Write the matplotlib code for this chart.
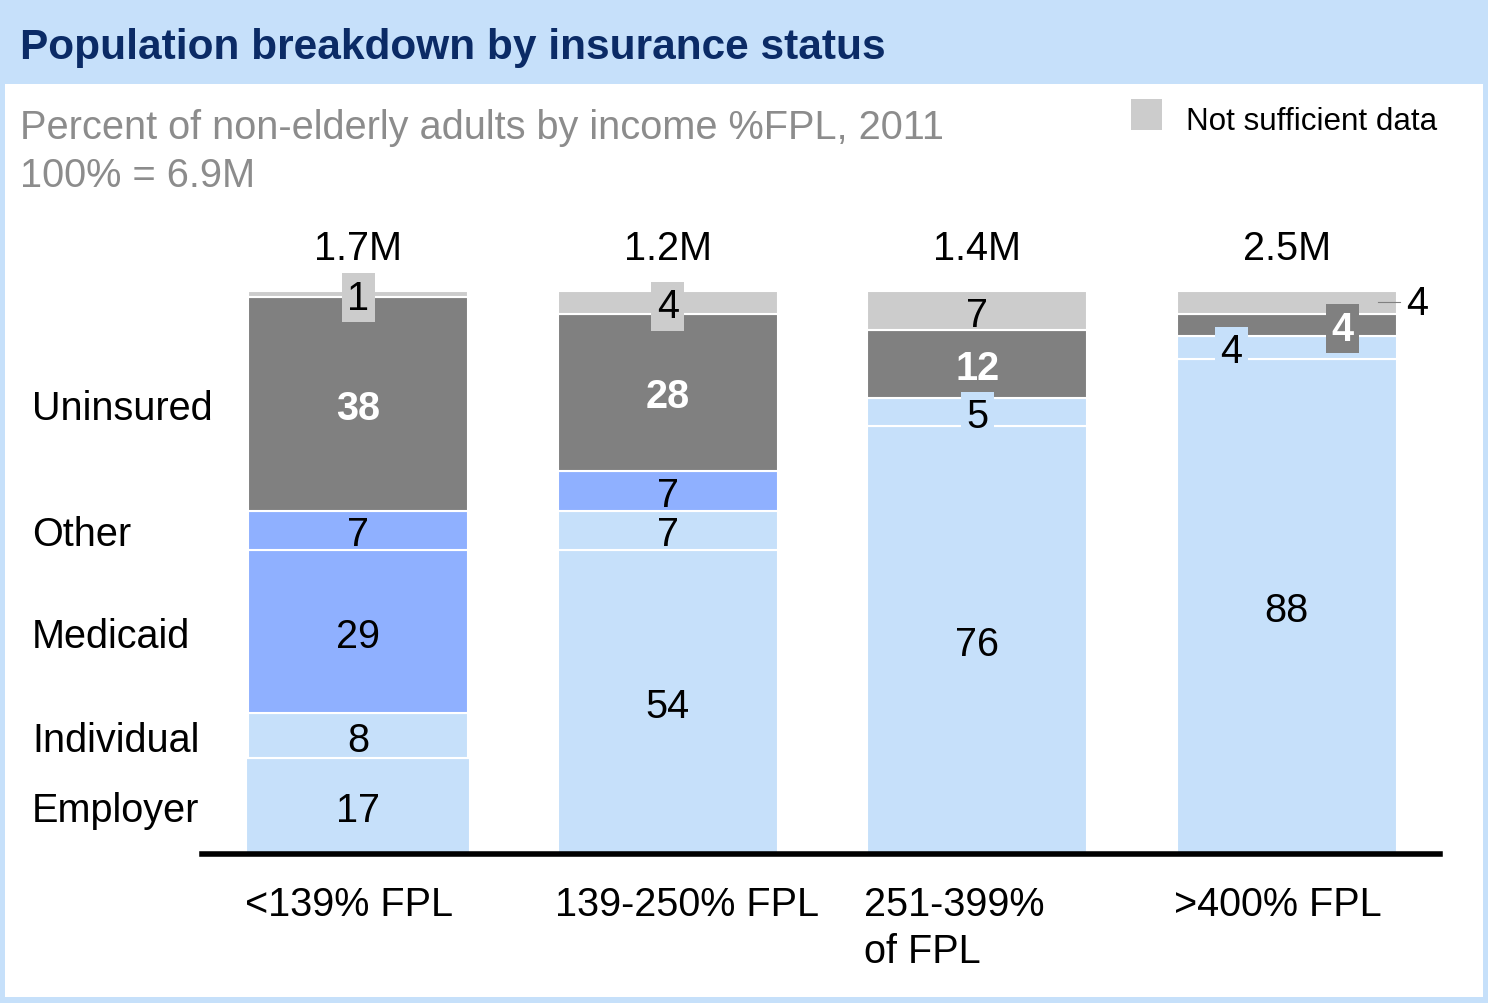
import matplotlib.pyplot as plt
from matplotlib.patches import Rectangle
from matplotlib.transforms import blended_transform_factory

plt.rcParams["font.family"] = ["Liberation Sans", "DejaVu Sans"]

# data (bottom to top in each bar)
categories = ['<139% FPL', '139-250% FPL', '251-399%\nof FPL', '>400% FPL']
totals = ['1.7M', '1.2M', '1.4M', '2.5M']
seg_values = [[17, 8, 29, 7, 38, 1],
              [54, 7, 7, 28, 4],
              [76, 5, 12, 7],
              [88, 4, 4, 4]]
seg_kinds = [['light', 'light', 'medium', 'medium', 'dark', 'gray'],
             ['light', 'light', 'medium', 'dark', 'gray'],
             ['light', 'light', 'dark', 'gray'],
             ['light', 'light', 'dark', 'gray']]
row_labels = ['Employer', 'Individual', 'Medicaid', 'Other', 'Uninsured']

colors = {'light': '#C6E0FA', 'medium': '#8FB0FF', 'dark': '#808080', 'gray': '#CCCCCC'}
# label tweaks: (bar, seg) -> (x offset, boxed, outside)
label_tweaks = {(0, 5): (0, True, False), (1, 4): (0, True, False),
                (2, 1): (0, True, False), (3, 1): (-0.18, True, False),
                (3, 2): (0.18, True, False), (3, 3): (0, False, True)}

fs = 28.5

fig = plt.figure(figsize=(14.88, 10.04), dpi=100)
fig.patch.set_facecolor('#C6E0FA')
fig.patches.append(Rectangle((5 / 1488, 6 / 1004), 1478 / 1488, (998 - 85) / 1004,
                             transform=fig.transFigure, facecolor='white', edgecolor='none', zorder=-5))

fig.text(20 / 1488, 1 - 44 / 1004, 'Population breakdown by insurance status',
         fontsize=30.5, fontweight='bold', color='#0B2B66', va='center_baseline')
fig.text(20 / 1488, 1 - 124 / 1004, 'Percent of non-elderly adults by income %FPL, 2011',
         fontsize=28.6, color='#8C8C8C', va='center_baseline')
fig.text(20 / 1488, 1 - 172 / 1004, '100% = 6.9M', fontsize=28.6, color='#8C8C8C', va='center_baseline')
fig.patches.append(Rectangle((1131 / 1488, 1 - 131 / 1004), 31 / 1488, 31 / 1004,
                             transform=fig.transFigure, facecolor=colors['gray'], edgecolor='none'))
fig.text(1186 / 1488, 1 - 118 / 1004, 'Not sufficient data', fontsize=22.6, va='center_baseline')

ax = fig.add_axes([202 / 1488, 1 - 855 / 1004, 1238 / 1488, 563 / 1004])
ax.set_xlim(-0.505, 3.495)
ax.set_ylim(0, 100)
ax.axis('off')
ax.axhline(0, color='black', lw=4, zorder=5, clip_on=False)

width = 0.71
for i, (vals, kinds) in enumerate(zip(seg_values, seg_kinds)):
    bottom = 0
    for j, (v, k) in enumerate(zip(vals, kinds)):
        w = width + 0.015 if (i == 0 and j == 0) else width
        ax.bar(i, v, width=w, bottom=bottom, color=colors[k], edgecolor='white', lw=1.5, zorder=2)
        dx, boxed, outside = label_tweaks.get((i, j), (0, False, False))
        y = bottom + v / 2
        txt_color = 'white' if k == 'dark' else 'black'
        weight = 'bold' if k == 'dark' else 'normal'
        if outside:
            ax.plot([i + width / 2 - 0.06, i + width / 2 + 0.01], [y, y], color='#808080', lw=0.8, zorder=3)
            ax.text(i + width / 2 + 0.03, y + 0.5, str(v), fontsize=fs, ha='left', va='center_baseline', zorder=4)
        else:
            bbox = dict(facecolor=colors[k], edgecolor='none', pad=4) if boxed else None
            ax.text(i + dx, y, str(v), fontsize=fs, ha='center', va='center_baseline', color=txt_color,
                    fontweight=weight, bbox=bbox, zorder=4)
        bottom += v
    ax.text(i, 108.4, totals[i], fontsize=fs, ha='center', va='center_baseline')
    ax.text(i - width / 2 - 0.01, -5.5, categories[i], fontsize=fs, ha='left', va='top', linespacing=1.3)

# row labels aligned with the first bar's segments
first = seg_values[0]
trans = blended_transform_factory(fig.transFigure, ax.transData)
for j, name in enumerate(row_labels):
    y = sum(first[:j]) + first[j] / 2
    ax.text(32 / 1488, y, name, fontsize=fs, ha='left', va='center_baseline', transform=trans)

fig.savefig('out.png', dpi=100, facecolor=fig.get_facecolor())
